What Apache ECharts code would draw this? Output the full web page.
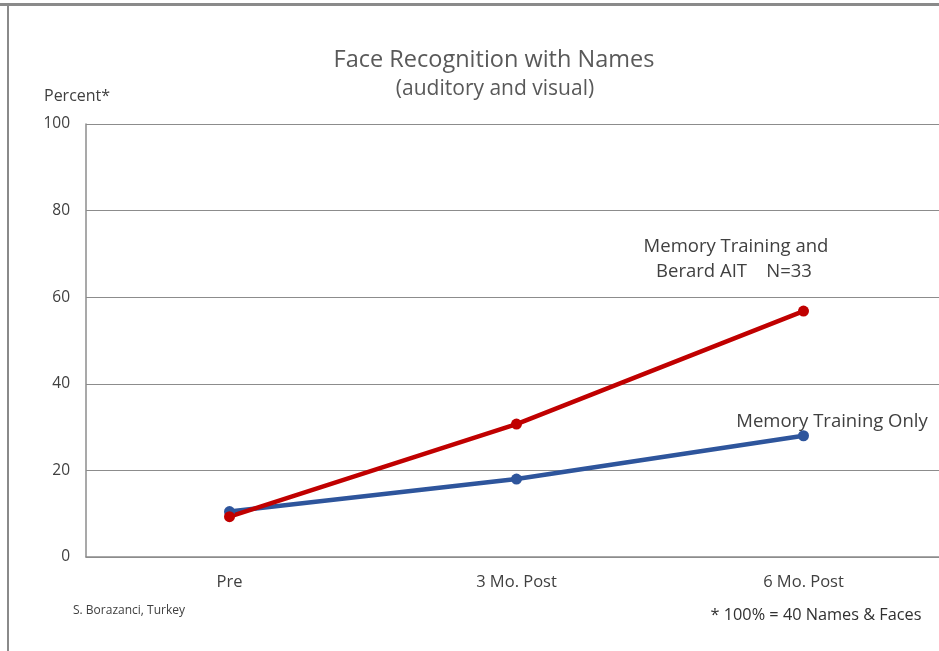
<!DOCTYPE html>
<html>
<head>
<meta charset="utf-8">
<script src="https://cdn.jsdelivr.net/npm/echarts@6/dist/echarts.min.js"></script>
<style>
  html, body { margin: 0; padding: 0; background: #fff; }
  #chart { width: 939px; height: 651px; }
</style>
</head>
<body>
<div id="chart"></div>
<script>
const categories = ['Pre', '3 Mo. Post', '6 Mo. Post'];
const combinedValues = [9.3, 30.7, 56.8];   // Memory Training and Berard AIT
const trainingOnlyValues = [10.5, 18.0, 28.0]; // Memory Training Only
const yTicks = [0, 20, 40, 60, 80, 100];

const font = 'Open Sans';
const chart = echarts.init(document.getElementById('chart'));

const option = {
  animation: false,
  textStyle: { fontFamily: font },
  grid: { left: 86, top: 124, right: -8, bottom: 94, outerBoundsMode: 'none' },
  xAxis: {
    type: 'category',
    data: categories,
    boundaryGap: true,
    axisLine: { lineStyle: { color: '#8c8c8c', width: 1.5 } },
    axisTick: { show: false },
    axisLabel: { color: '#404040', fontSize: 16.5, margin: 17 }
  },
  yAxis: {
    type: 'value',
    min: yTicks[0],
    max: yTicks[yTicks.length - 1],
    interval: 20,
    axisLine: { show: true, lineStyle: { color: '#8c8c8c', width: 1.5 } },
    axisTick: { show: false },
    axisLabel: { color: '#404040', fontSize: 15.5, margin: 16 },
    splitLine: { lineStyle: { color: '#8c8c8c', width: 1 } }
  },
  series: [
    {
      name: 'Memory Training Only',
      type: 'line',
      data: trainingOnlyValues,
      symbol: 'circle',
      symbolSize: 11,
      lineStyle: { color: '#2e559c', width: 4.5 },
      itemStyle: { color: '#2e559c' }
    },
    {
      name: 'Memory Training and Berard AIT',
      type: 'line',
      data: combinedValues,
      symbol: 'circle',
      symbolSize: 11,
      lineStyle: { color: '#c00000', width: 4.5 },
      itemStyle: { color: '#c00000' }
    }
  ],
  graphic: [
    { type: 'rect', shape: { x: 0, y: 3, width: 939, height: 3 }, style: { fill: '#8a8a8a' } },
    { type: 'rect', shape: { x: 7, y: 3, width: 2, height: 648 }, style: { fill: '#8a8a8a' } },
    { type: 'text', x: 494, y: 48, style: { text: 'Face Recognition with Names', fontSize: 23.5, fill: '#595959', fontFamily: font, align: 'center' } },
    { type: 'text', x: 495, y: 79, style: { text: '(auditory and visual)', fontSize: 21, fill: '#595959', fontFamily: font, align: 'center' } },
    { type: 'text', x: 44, y: 88, style: { text: 'Percent*', fontSize: 16, fill: '#404040', fontFamily: font } },
    { type: 'text', x: 736, y: 237, style: { text: 'Memory Training and', fontSize: 18.5, fill: '#404040', fontFamily: font, align: 'center' } },
    { type: 'text', x: 734, y: 262, style: { text: 'Berard AIT    N=33', fontSize: 18.5, fill: '#404040', fontFamily: font, align: 'center' } },
    { type: 'text', x: 832, y: 412, style: { text: 'Memory Training Only', fontSize: 18.5, fill: '#404040', fontFamily: font, align: 'center' } },
    { type: 'text', x: 73, y: 605, style: { text: 'S. Borazanci, Turkey', fontSize: 12, fill: '#404040', fontFamily: font } },
    { type: 'text', x: 816, y: 607, style: { text: '* 100% = 40 Names & Faces', fontSize: 16.3, fill: '#303030', fontFamily: font, align: 'center' } }
  ]
};

chart.setOption(option);
</script>
</body>
</html>
